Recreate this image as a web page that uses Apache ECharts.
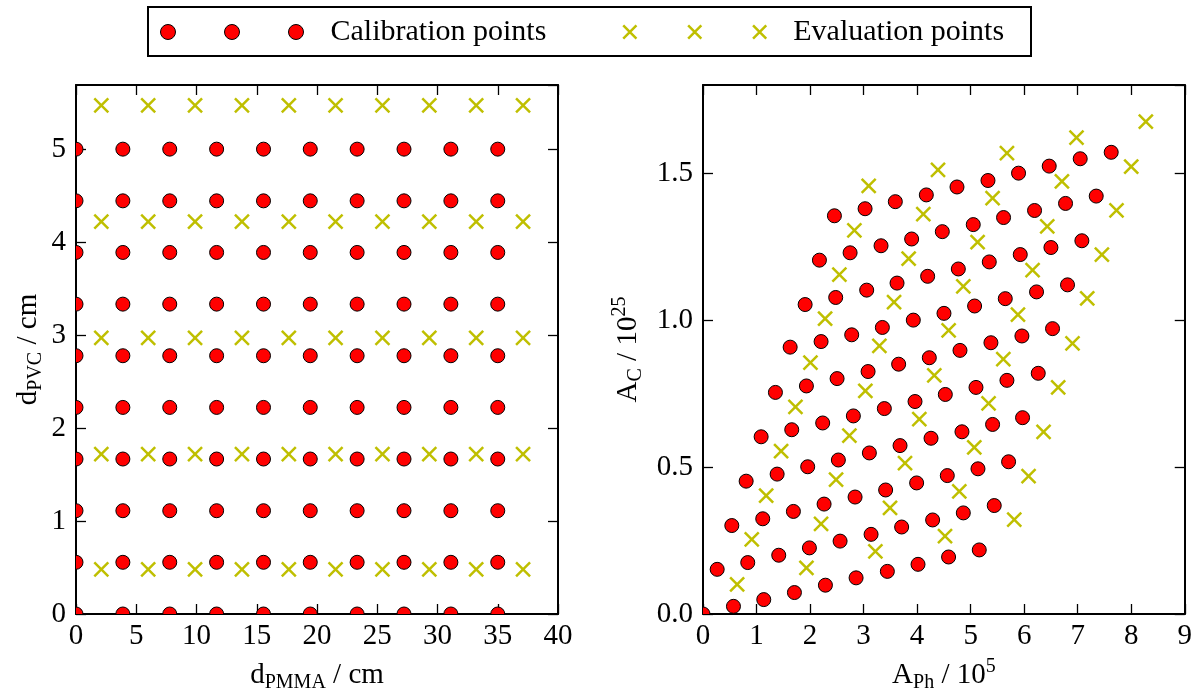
<!DOCTYPE html>
<html>
<head>
<meta charset="utf-8">
<script src="https://cdn.jsdelivr.net/npm/echarts@6/dist/echarts.min.js"></script>
<style>
html,body{margin:0;padding:0;background:#fff;}
#chart{width:1195px;height:698px;}
</style>
</head>
<body>
<div id="chart"></div>
<script>
// ---------- data ----------
// Left panel: thickness grid (cm)
const pmmaCal = [0, 3.89, 7.78, 11.67, 15.56, 19.44, 23.33, 27.22, 31.11, 35.0];
const pvcCal = [0, 0.556, 1.111, 1.667, 2.222, 2.778, 3.333, 3.889, 4.444, 5.0];
const pmmaEval = [2.1, 5.99, 9.88, 13.77, 17.66, 21.54, 25.43, 29.32, 33.21, 37.1];
const pvcEval = [0.48, 1.72, 2.97, 4.22, 5.47];

// Right panel: A_Ph (1e5) and A_C (1e25) of calibration points
const calAPh = [
  0, 0.569, 1.135, 1.708, 2.287, 2.860, 3.444, 4.017, 4.588, 5.161,
  0.265, 0.836, 1.415, 1.988, 2.561, 3.140, 3.711, 4.290, 4.863, 5.441,
  0.538, 1.116, 1.689, 2.262, 2.841, 3.412, 3.991, 4.564, 5.137, 5.709,
  0.806, 1.385, 1.956, 2.529, 3.108, 3.681, 4.260, 4.838, 5.410, 5.970,
  1.086, 1.658, 2.236, 2.809, 3.388, 3.961, 4.527, 5.100, 5.678, 6.263,
  1.353, 1.932, 2.505, 3.084, 3.655, 4.228, 4.801, 5.379, 5.958, 6.530,
  1.628, 2.206, 2.778, 3.351, 3.929, 4.502, 5.074, 5.647, 6.231, 6.810,
  1.908, 2.479, 3.058, 3.625, 4.197, 4.770, 5.348, 5.927, 6.500, 7.078,
  2.175, 2.748, 3.326, 3.898, 4.471, 5.049, 5.615, 6.194, 6.773, 7.346,
  2.455, 3.028, 3.593, 4.172, 4.745, 5.324, 5.895, 6.468, 7.047, 7.626
];
const calAC = [
  0, 0.026, 0.049, 0.073, 0.098, 0.123, 0.145, 0.169, 0.194, 0.218,
  0.152, 0.175, 0.200, 0.225, 0.248, 0.271, 0.296, 0.320, 0.344, 0.369,
  0.301, 0.324, 0.349, 0.374, 0.398, 0.422, 0.446, 0.471, 0.494, 0.518,
  0.452, 0.476, 0.501, 0.524, 0.548, 0.573, 0.598, 0.620, 0.645, 0.668,
  0.603, 0.627, 0.650, 0.674, 0.699, 0.723, 0.747, 0.771, 0.795, 0.819,
  0.754, 0.776, 0.801, 0.825, 0.850, 0.872, 0.897, 0.923, 0.946, 0.971,
  0.908, 0.927, 0.950, 0.975, 1.000, 1.023, 1.048, 1.073, 1.096, 1.120,
  1.053, 1.077, 1.102, 1.126, 1.149, 1.174, 1.198, 1.223, 1.247, 1.270,
  1.204, 1.229, 1.253, 1.276, 1.301, 1.325, 1.349, 1.373, 1.397, 1.422,
  1.355, 1.379, 1.403, 1.426, 1.453, 1.475, 1.500, 1.524, 1.549, 1.571
];
// Right panel: evaluation points
const evalAPh = [
  0.638, 0.911, 1.180, 1.459, 1.727, 2.007, 2.281, 2.548, 2.828, 3.095,
  1.932, 2.206, 2.486, 2.735, 3.033, 3.295, 3.569, 3.842, 4.116, 4.390,
  3.220, 3.494, 3.774, 4.041, 4.321, 4.589, 4.863, 5.130, 5.410, 5.678,
  4.521, 4.788, 5.068, 5.335, 5.610, 5.884, 6.157, 6.431, 6.705, 6.978,
  5.815, 6.082, 6.362, 6.636, 6.903, 7.178, 7.452, 7.725, 8.000, 8.273
];
const evalAC = [
  0.101, 0.254, 0.403, 0.554, 0.705, 0.855, 1.005, 1.155, 1.305, 1.457,
  0.157, 0.307, 0.457, 0.607, 0.759, 0.912, 1.061, 1.209, 1.361, 1.511,
  0.213, 0.361, 0.513, 0.663, 0.812, 0.965, 1.115, 1.265, 1.415, 1.568,
  0.265, 0.417, 0.567, 0.717, 0.867, 1.019, 1.170, 1.319, 1.472, 1.621,
  0.321, 0.469, 0.620, 0.771, 0.921, 1.074, 1.223, 1.373, 1.522, 1.675
];
const seriesNames = ['Calibration points', 'Evaluation points'];

// ---------- build ----------
const FONT = 'Liberation Serif';
const RED = '#ff0000';
const YEL = '#bfbf00';

function grid(xs, ys) { const out = []; ys.forEach(y => xs.forEach(x => out.push([x, y]))); return out; }
function zip(a, b) { return a.map((v, i) => [v, b[i]]); }

const leftCal = grid(pmmaCal, pvcCal);
const leftEval = grid(pmmaEval, pvcEval);
const rightCal = zip(calAPh, calAC);
const rightEval = zip(evalAPh, evalAC);

function circleItem(params, api) {
  const p = api.coord([api.value(0), api.value(1)]);
  return { type: 'circle', shape: { cx: p[0], cy: p[1], r: 7 },
           style: { fill: RED, stroke: '#000', lineWidth: 1 } };
}
function crossItem(params, api) {
  const p = api.coord([api.value(0), api.value(1)]);
  const h = 7;
  return { type: 'group', children: [
    { type: 'line', shape: { x1: p[0] - h, y1: p[1] - h, x2: p[0] + h, y2: p[1] + h }, style: { stroke: YEL, lineWidth: 2.5 } },
    { type: 'line', shape: { x1: p[0] + h, y1: p[1] - h, x2: p[0] - h, y2: p[1] + h }, style: { stroke: YEL, lineWidth: 2.5 } }
  ] };
}

const rich = {
  m: { fontFamily: FONT, fontSize: 29, color: '#000', lineHeight: 36 },
  s: { fontFamily: FONT, fontSize: 20, color: '#000', lineHeight: 18, verticalAlign: 'bottom' },
  p: { fontFamily: FONT, fontSize: 20, color: '#000', lineHeight: 20, verticalAlign: 'top' }
};

const lineStyle = { color: '#000', width: 2 };
const tickStyle = { inside: true, length: 10, lineStyle: { color: '#000', width: 1.3 } };
const labelStyle = { fontFamily: FONT, fontSize: 29, color: '#000' };

function xAxisPair(gi, min, max, interval, name, gap) {
  return [
    { gridIndex: gi, type: 'value', min, max, interval, position: 'bottom',
      axisLine: { onZero: false, lineStyle }, axisTick: tickStyle,
      axisLabel: Object.assign({ margin: 8, showMaxLabel: true }, labelStyle),
      splitLine: { show: false },
      name, nameLocation: 'middle', nameGap: gap, nameTextStyle: { rich } },
    { gridIndex: gi, type: 'value', min, max, interval, position: 'top',
      axisLine: { onZero: false, lineStyle }, axisTick: tickStyle,
      axisLabel: { show: false }, splitLine: { show: false } }
  ];
}
function yAxisPair(gi, min, max, interval, name, gap, fmt) {
  return [
    { gridIndex: gi, type: 'value', min, max, interval, position: 'left',
      axisLine: { onZero: false, lineStyle }, axisTick: tickStyle,
      axisLabel: Object.assign({ margin: 10, showMaxLabel: false, formatter: fmt }, labelStyle),
      splitLine: { show: false },
      name, nameLocation: 'middle', nameRotate: 90, nameGap: gap, nameTextStyle: { rich } },
    { gridIndex: gi, type: 'value', min, max, interval, position: 'right',
      axisLine: { onZero: false, lineStyle }, axisTick: tickStyle,
      axisLabel: { show: false }, splitLine: { show: false } }
  ];
}

const circlesIcon = 'path://M0 7.5A7.5 7.5 0 1 1 15 7.5A7.5 7.5 0 1 1 0 7.5Z' +
  'M64 7.5A7.5 7.5 0 1 1 79 7.5A7.5 7.5 0 1 1 64 7.5Z' +
  'M128 7.5A7.5 7.5 0 1 1 143 7.5A7.5 7.5 0 1 1 128 7.5Z';
const crossIcon = 'path://M0.5 0.5L13.5 13.5M13.5 0.5L0.5 13.5' +
  'M64.5 0.5L77.5 13.5M77.5 0.5L64.5 13.5' +
  'M128.5 0.5L141.5 13.5M141.5 0.5L128.5 13.5';

const legendCommon = {
  orient: 'horizontal', top: 17, padding: 0, itemWidth: 143, itemHeight: 15,
  selectedMode: false,
  textStyle: { fontFamily: FONT, fontSize: 30, color: '#000', padding: [0, 0, 0, 22] }
};

const option = {
  animation: false,
  backgroundColor: '#fff',
  graphic: [{
    type: 'rect', left: 147, top: 6, z: 0,
    shape: { width: 883, height: 49 },
    style: { fill: '#fff', stroke: '#000', lineWidth: 2 }
  }],
  legend: [
    Object.assign({}, legendCommon, { left: 160,
      data: [{ name: seriesNames[0], icon: circlesIcon,
               itemStyle: { color: RED, borderColor: '#000', borderWidth: 1 } }] }),
    Object.assign({}, legendCommon, { left: 622,
      data: [{ name: seriesNames[1], icon: crossIcon,
               itemStyle: { color: 'rgba(0,0,0,0)', borderColor: YEL, borderWidth: 2.5 } }] })
  ],
  grid: [
    { left: 76, top: 85, width: 482, height: 531 },
    { left: 703, top: 85, width: 482, height: 531 }
  ],
  xAxis: [].concat(
    xAxisPair(0, 0, 40, 5, '{m|d}{s|PMMA}{m| / cm}', 43),
    xAxisPair(1, 0, 9, 1, '{m|A}{s|Ph}{m| / 10}{p|5}', 43)
  ),
  yAxis: [].concat(
    yAxisPair(0, 0, 5.69, 1, '{m|d}{s|PVC}{m| / cm}', 30, v => String(v)),
    yAxisPair(1, 0, 1.8, 0.5, '{m|A}{s|C}{m| / 10}{p|25}', 57, v => v.toFixed(1))
  ),
  series: [
    { name: seriesNames[0], type: 'custom', xAxisIndex: 0, yAxisIndex: 0, clip: true,
      renderItem: circleItem, encode: { x: 0, y: 1 }, data: leftCal,
      itemStyle: { color: RED, borderColor: '#000', borderWidth: 1 } },
    { name: seriesNames[1], type: 'custom', xAxisIndex: 0, yAxisIndex: 0, clip: true,
      renderItem: crossItem, encode: { x: 0, y: 1 }, data: leftEval,
      itemStyle: { color: YEL } },
    { name: seriesNames[0], type: 'custom', xAxisIndex: 2, yAxisIndex: 2, clip: true,
      renderItem: circleItem, encode: { x: 0, y: 1 }, data: rightCal,
      itemStyle: { color: RED, borderColor: '#000', borderWidth: 1 } },
    { name: seriesNames[1], type: 'custom', xAxisIndex: 2, yAxisIndex: 2, clip: true,
      renderItem: crossItem, encode: { x: 0, y: 1 }, data: rightEval,
      itemStyle: { color: YEL } }
  ]
};

const chart = echarts.init(document.getElementById('chart'), null, { renderer: 'canvas' });
chart.setOption(option);
</script>
</body>
</html>
